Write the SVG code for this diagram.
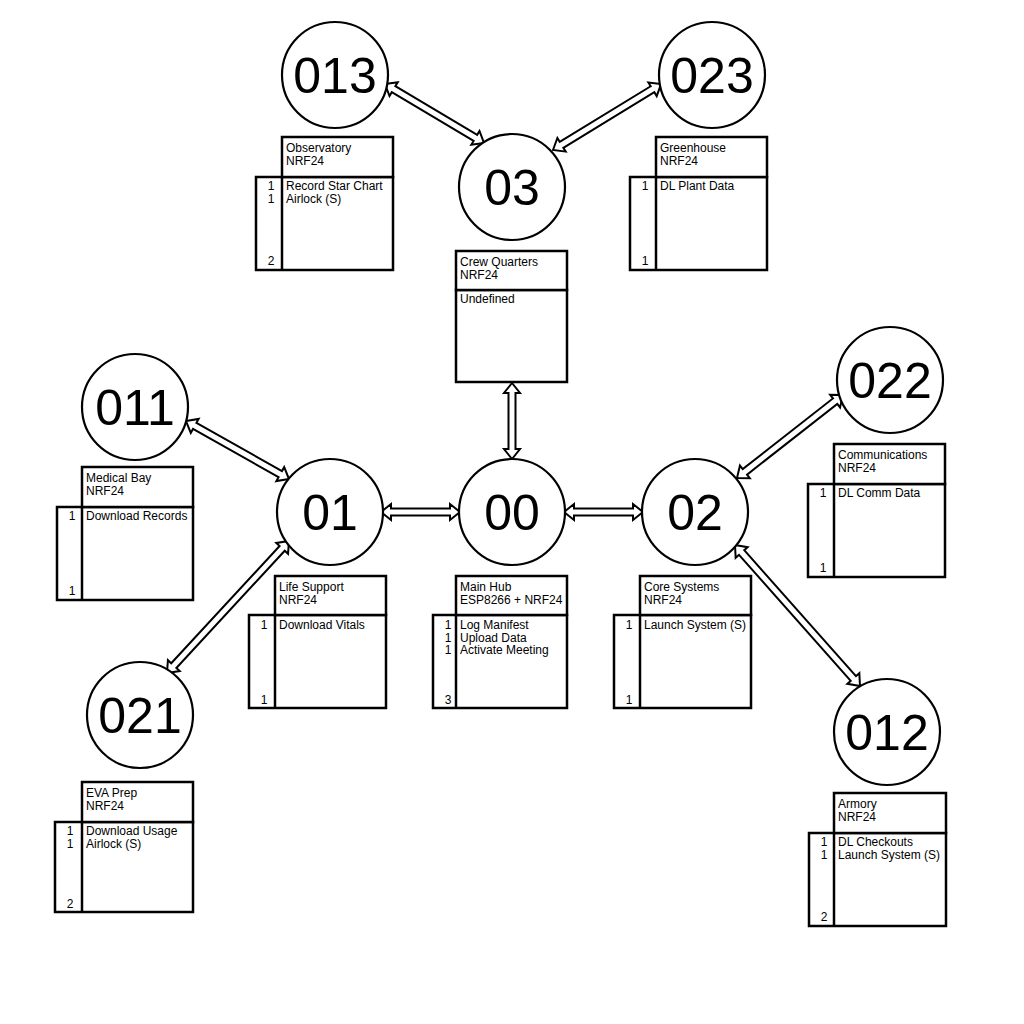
<svg xmlns="http://www.w3.org/2000/svg" width="1024" height="1024" viewBox="0 0 1024 1024">
  <style>
    .node circle { fill: #fff; stroke: #000; stroke-width: 2.2; }
    .node text.id { font-family: "Liberation Sans", Arial, sans-serif; font-size: 50px; text-anchor: middle; fill: #000; }
    .box rect, .box line { fill: #fff; stroke: #000; stroke-width: 2.5; }
    .box text { font-family: "Liberation Sans", Arial, sans-serif; font-size: 12px; fill: #000; }
    .box text.n { text-anchor: end; }
    .conn polygon { fill: #fff; stroke: #000; stroke-width: 2; stroke-linejoin: miter; }
  </style>
  <rect width="1024" height="1024" fill="#fff"/>

  <!-- double-headed hollow connectors -->
  <g id="connectors" class="conn">
    <polygon transform="translate(385,84) rotate(30.8)" points="0,0 10,-8 10,-3.5 105.25,-3.5 105.25,-8 115.25,0 105.25,8 105.25,3.5 10,3.5 10,8"/>
    <polygon transform="translate(553,150) rotate(-31.4)" points="0,0 10,-8 10,-3.5 116.6,-3.5 116.6,-8 126.6,0 116.6,8 116.6,3.5 10,3.5 10,8"/>
    <polygon transform="translate(512,383) rotate(90)" points="0,0 10,-8 10,-3.5 66,-3.5 66,-8 76,0 66,8 66,3.5 10,3.5 10,8"/>
    <polygon transform="translate(186,421) rotate(29.4)" points="0,0 10,-8 10,-3.5 108.2,-3.5 108.2,-8 118.2,0 108.2,8 108.2,3.5 10,3.5 10,8"/>
    <polygon transform="translate(381,512)" points="0,0 10,-8 10,-3.5 69,-3.5 69,-8 79,0 69,8 69,3.5 10,3.5 10,8"/>
    <polygon transform="translate(564,512)" points="0,0 10,-8 10,-3.5 69,-3.5 69,-8 79,0 69,8 69,3.5 10,3.5 10,8"/>
    <polygon transform="translate(737,478) rotate(-38.06)" points="0,0 10,-8 10,-3.5 124.6,-3.5 124.6,-8 134.6,0 124.6,8 124.6,3.5 10,3.5 10,8"/>
    <polygon transform="translate(167,673) rotate(-47.26)" points="0,0 10,-8 10,-3.5 169.7,-3.5 169.7,-8 179.7,0 169.7,8 169.7,3.5 10,3.5 10,8"/>
    <polygon transform="translate(735,545) rotate(48.44)" points="0,0 10,-8 10,-3.5 178.4,-3.5 178.4,-8 188.4,0 178.4,8 178.4,3.5 10,3.5 10,8"/>
  </g>

  <!-- address nodes -->
  <g id="n013" class="node"><circle cx="335" cy="75" r="53"/><text class="id" x="335" y="93">013</text></g>
  <g id="n023" class="node"><circle cx="712" cy="75" r="53"/><text class="id" x="712" y="93">023</text></g>
  <g id="n03" class="node"><circle cx="512" cy="187" r="53"/><text class="id" x="512" y="205">03</text></g>
  <g id="n011" class="node"><circle cx="135" cy="407" r="53"/><text class="id" x="135" y="425">011</text></g>
  <g id="n01" class="node"><circle cx="330" cy="512" r="53"/><text class="id" x="330" y="530">01</text></g>
  <g id="n00" class="node"><circle cx="512" cy="512" r="53"/><text class="id" x="512" y="530">00</text></g>
  <g id="n02" class="node"><circle cx="695" cy="512" r="53"/><text class="id" x="695" y="530">02</text></g>
  <g id="n022" class="node"><circle cx="890" cy="380" r="53"/><text class="id" x="890" y="398">022</text></g>
  <g id="n021" class="node"><circle cx="140" cy="715" r="53"/><text class="id" x="140" y="733">021</text></g>
  <g id="n012" class="node"><circle cx="887" cy="732" r="53"/><text class="id" x="887" y="750">012</text></g>

  <!-- station tables -->
  <g id="t013" class="box" transform="translate(282,137)">
    <rect x="-26" y="40" width="137" height="93"/><line x1="0" y1="40" x2="0" y2="133"/><rect x="0" y="0" width="111" height="40"/>
    <text x="4" y="15">Observatory</text><text x="4" y="28">NRF24</text>
    <text class="n" x="-7.5" y="53">1</text><text x="4" y="53">Record Star Chart</text>
    <text class="n" x="-7.5" y="65.5">1</text><text x="4" y="65.5">Airlock (S)</text>
    <text class="n" x="-7.5" y="128">2</text>
  </g>
  <g id="t023" class="box" transform="translate(656,137)">
    <rect x="-26" y="40" width="137" height="93"/><line x1="0" y1="40" x2="0" y2="133"/><rect x="0" y="0" width="111" height="40"/>
    <text x="4" y="15">Greenhouse</text><text x="4" y="28">NRF24</text>
    <text class="n" x="-7.5" y="53">1</text><text x="4" y="53">DL Plant Data</text>
    <text class="n" x="-7.5" y="128">1</text>
  </g>
  <g id="t03" class="box" transform="translate(456,251)">
    <rect x="0" y="39" width="111" height="92"/><rect x="0" y="0" width="111" height="39"/>
    <text x="4" y="15">Crew Quarters</text><text x="4" y="28">NRF24</text>
    <text x="4" y="52">Undefined</text>
  </g>
  <g id="t011" class="box" transform="translate(82,467)">
    <rect x="-25" y="40" width="136" height="93"/><line x1="0" y1="40" x2="0" y2="133"/><rect x="0" y="0" width="111" height="40"/>
    <text x="4" y="15">Medical Bay</text><text x="4" y="28">NRF24</text>
    <text class="n" x="-6.5" y="53">1</text><text x="4" y="53">Download Records</text>
    <text class="n" x="-6.5" y="128">1</text>
  </g>
  <g id="t022" class="box" transform="translate(834,444)">
    <rect x="-26" y="40" width="137" height="93"/><line x1="0" y1="40" x2="0" y2="133"/><rect x="0" y="0" width="111" height="40"/>
    <text x="4" y="15">Communications</text><text x="4" y="28">NRF24</text>
    <text class="n" x="-7.5" y="53">1</text><text x="4" y="53">DL Comm Data</text>
    <text class="n" x="-7.5" y="128">1</text>
  </g>
  <g id="t01" class="box" transform="translate(275,576)">
    <rect x="-26" y="39" width="137" height="93"/><line x1="0" y1="39" x2="0" y2="132"/><rect x="0" y="0" width="111" height="39"/>
    <text x="4" y="15">Life Support</text><text x="4" y="28">NRF24</text>
    <text class="n" x="-7.5" y="53">1</text><text x="4" y="53">Download Vitals</text>
    <text class="n" x="-7.5" y="128">1</text>
  </g>
  <g id="t00" class="box" transform="translate(456,576)">
    <rect x="-23" y="39" width="134" height="93"/><line x1="0" y1="39" x2="0" y2="132"/><rect x="0" y="0" width="111" height="39"/>
    <text x="4" y="15">Main Hub</text><text x="4" y="28">ESP8266 + NRF24</text>
    <text class="n" x="-4.5" y="53">1</text><text x="4" y="53">Log Manifest</text>
    <text class="n" x="-4.5" y="65.5">1</text><text x="4" y="65.5">Upload Data</text>
    <text class="n" x="-4.5" y="78">1</text><text x="4" y="78">Activate Meeting</text>
    <text class="n" x="-4.5" y="128">3</text>
  </g>
  <g id="t02" class="box" transform="translate(640,576)">
    <rect x="-26" y="39" width="137" height="93"/><line x1="0" y1="39" x2="0" y2="132"/><rect x="0" y="0" width="111" height="39"/>
    <text x="4" y="15">Core Systems</text><text x="4" y="28">NRF24</text>
    <text class="n" x="-7.5" y="53">1</text><text x="4" y="53">Launch System (S)</text>
    <text class="n" x="-7.5" y="128">1</text>
  </g>
  <g id="t021" class="box" transform="translate(82,782)">
    <rect x="-27" y="40" width="138" height="90"/><line x1="0" y1="40" x2="0" y2="130"/><rect x="0" y="0" width="111" height="40"/>
    <text x="4" y="15">EVA Prep</text><text x="4" y="28">NRF24</text>
    <text class="n" x="-8.5" y="53">1</text><text x="4" y="53">Download Usage</text>
    <text class="n" x="-8.5" y="65.5">1</text><text x="4" y="65.5">Airlock (S)</text>
    <text class="n" x="-8.5" y="126">2</text>
  </g>
  <g id="t012" class="box" transform="translate(834,793)">
    <rect x="-25" y="40" width="137" height="93"/><line x1="0" y1="40" x2="0" y2="133"/><rect x="0" y="0" width="112" height="40"/>
    <text x="4" y="15">Armory</text><text x="4" y="28">NRF24</text>
    <text class="n" x="-6.5" y="53">1</text><text x="4" y="53">DL Checkouts</text>
    <text class="n" x="-6.5" y="65.5">1</text><text x="4" y="65.5">Launch System (S)</text>
    <text class="n" x="-6.5" y="128">2</text>
  </g>
</svg>
